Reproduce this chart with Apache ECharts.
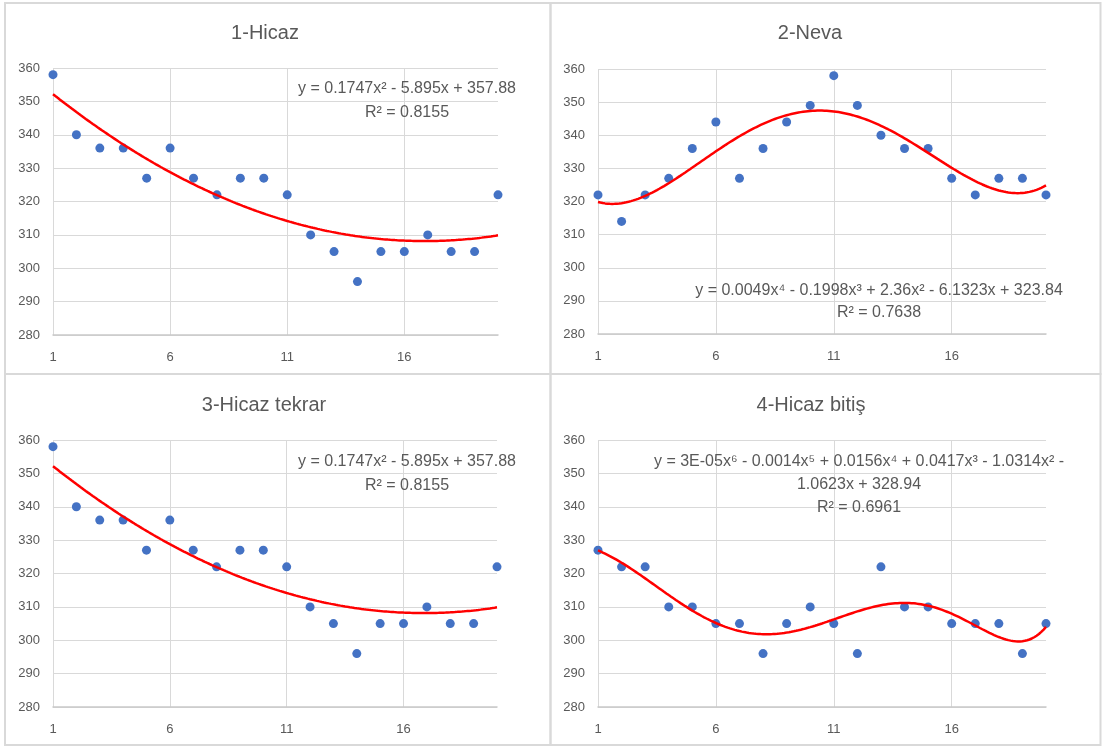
<!DOCTYPE html>
<html>
<head>
<meta charset="utf-8">
<script src="https://cdn.jsdelivr.net/npm/echarts@6/dist/echarts.min.js"></script>
<style>
html,body{margin:0;padding:0;background:#fff;}
#chart{width:1102px;height:746px;}
</style>
</head>
<body>
<div id="chart"></div>
<script>
// ---- data ----
const xValues = [1,2,3,4,5,6,7,8,9,10,11,12,13,14,15,16,17,18,19,20];
const hicaz       = [358,340,336,336,327,336,327,322,327,327,322,310,305,296,305,305,310,305,305,322];
const neva        = [322,314,322,327,336,344,327,336,344,349,358,349,340,336,336,327,322,327,327,322];
const hicazTekrar = [358,340,336,336,327,336,327,322,327,327,322,310,305,296,305,305,310,305,305,322];
const hicazBitis  = [327,322,322,310,310,305,305,296,305,310,305,296,322,310,310,305,305,305,296,305];

const panelTitles = ['1-Hicaz', '2-Neva', '3-Hicaz tekrar', '4-Hicaz bitiş'];
const panelSeries = [hicaz, neva, hicazTekrar, hicazBitis];
const trendDegrees = [2, 4, 2, 6];
const equationTexts = [
  ['y = 0.1747x² - 5.895x + 357.88', 'R² = 0.8155'],
  ['y = 0.0049x⁴ - 0.1998x³ + 2.36x² - 6.1323x + 323.84', 'R² = 0.7638'],
  ['y = 0.1747x² - 5.895x + 357.88', 'R² = 0.8155'],
  ['y = 3E-05x⁶ - 0.0014x⁵ + 0.0156x⁴ + 0.0417x³ - 1.0314x² -', '1.0623x + 328.94', 'R² = 0.6961']
];
const yTicks = {min: 280, max: 360, interval: 10};
const xTicks = {min: 1, max: 20, interval: 5};

// ---- least-squares polynomial trendline (like Excel's) ----
function polyFit(xs, ys, deg) {
  const c = 10.5, s = 9.5;
  const n = deg + 1;
  const A = [];
  for (let i = 0; i < n; i++) { A.push(new Array(n + 1).fill(0)); }
  for (let k = 0; k < xs.length; k++) {
    const t = (xs[k] - c) / s;
    const p = [];
    for (let i = 0; i < n; i++) p.push(Math.pow(t, i));
    for (let i = 0; i < n; i++) {
      for (let j = 0; j < n; j++) A[i][j] += p[i] * p[j];
      A[i][n] += p[i] * ys[k];
    }
  }
  for (let i = 0; i < n; i++) {
    let piv = i;
    for (let r = i + 1; r < n; r++) if (Math.abs(A[r][i]) > Math.abs(A[piv][i])) piv = r;
    [A[i], A[piv]] = [A[piv], A[i]];
    for (let r = 0; r < n; r++) {
      if (r === i) continue;
      const f = A[r][i] / A[i][i];
      for (let j = i; j <= n; j++) A[r][j] -= f * A[i][j];
    }
  }
  const coef = A.map((row, i) => row[n] / row[i]);
  return function (x) {
    const t = (x - c) / s;
    let v = 0;
    for (let i = n - 1; i >= 0; i--) v = v * t + coef[i];
    return v;
  };
}

// ---- layout ----
const grids = [
  {left: 53,  top: 68,  width: 445, height: 267},
  {left: 598, top: 69,  width: 448, height: 265},
  {left: 53,  top: 440, width: 444, height: 267},
  {left: 598, top: 440, width: 448, height: 267}
];
const titlePos = [[265, 33], [810, 33], [264, 405], [811, 405]];
const eqPos = [
  {x: 407, y: [89, 113]},
  {x: 879, y: [291, 313]},
  {x: 407, y: [462, 486]},
  {x: 859, y: [462, 485, 508]}
];
const borders = [
  [5, 3, 545.5, 371], [550.5, 3, 550, 371],
  [5, 374, 545.5, 371], [550.5, 374, 550, 371]
];

const textColor = '#595959';
const font = '"Liberation Sans", Arial, sans-serif';

const option = {
  backgroundColor: '#ffffff',
  animation: false,
  grid: grids.map(g => Object.assign({containLabel: false}, g)),
  xAxis: grids.map((g, i) => ({
    type: 'value', gridIndex: i,
    min: xTicks.min, max: xTicks.max, interval: xTicks.interval,
    axisLine: {show: true, lineStyle: {color: '#C9C9C9', width: 1.5}},
    axisTick: {show: false},
    axisLabel: {color: textColor, fontSize: 13, fontFamily: font, margin: 16, showMaxLabel: false},
    splitLine: {show: true, showMaxLine: false, lineStyle: {color: '#D9D9D9', width: 1}}
  })),
  yAxis: grids.map((g, i) => ({
    type: 'value', gridIndex: i,
    min: yTicks.min, max: yTicks.max, interval: yTicks.interval,
    axisLine: {show: false},
    axisTick: {show: false},
    axisLabel: {color: textColor, fontSize: 13, fontFamily: font, margin: 13},
    splitLine: {show: true, lineStyle: {color: '#D9D9D9', width: 1}}
  })),
  series: [],
  graphic: []
};

panelSeries.forEach((vals, i) => {
  option.series.push({
    type: 'scatter', xAxisIndex: i, yAxisIndex: i,
    symbolSize: 9, itemStyle: {color: '#4472C4', opacity: 1},
    data: xValues.map((x, k) => [x, vals[k]]), z: 2
  });
  const f = polyFit(xValues, vals, trendDegrees[i]);
  const curve = [];
  for (let x = xTicks.min; x <= xTicks.max + 1e-9; x += 0.1) curve.push([x, f(x)]);
  option.series.push({
    type: 'line', xAxisIndex: i, yAxisIndex: i,
    showSymbol: false, symbol: 'none', smooth: false,
    lineStyle: {color: '#FF0000', width: 2.5},
    data: curve, z: 3, silent: true
  });
});

borders.forEach(b => {
  option.graphic.push({
    type: 'rect', shape: {x: b[0], y: b[1], width: b[2], height: b[3]},
    style: {fill: 'none', stroke: '#D9D9D9', lineWidth: 2}, silent: true, z: 0
  });
});
panelTitles.forEach((t, i) => {
  option.graphic.push({
    type: 'text', x: titlePos[i][0], y: titlePos[i][1],
    style: {text: t, fill: textColor, fontSize: 20, fontFamily: font, align: 'center', verticalAlign: 'middle'},
    z: 10
  });
});
equationTexts.forEach((lines, i) => {
  lines.forEach((line, j) => {
    option.graphic.push({
      type: 'text', x: eqPos[i].x, y: eqPos[i].y[j],
      style: {text: line, fill: textColor, fontSize: 16, fontFamily: font, align: 'center', verticalAlign: 'middle'},
      z: 10
    });
  });
});

const chart = echarts.init(document.getElementById('chart'), null, {renderer: 'canvas'});
chart.setOption(option);
</script>
</body>
</html>
